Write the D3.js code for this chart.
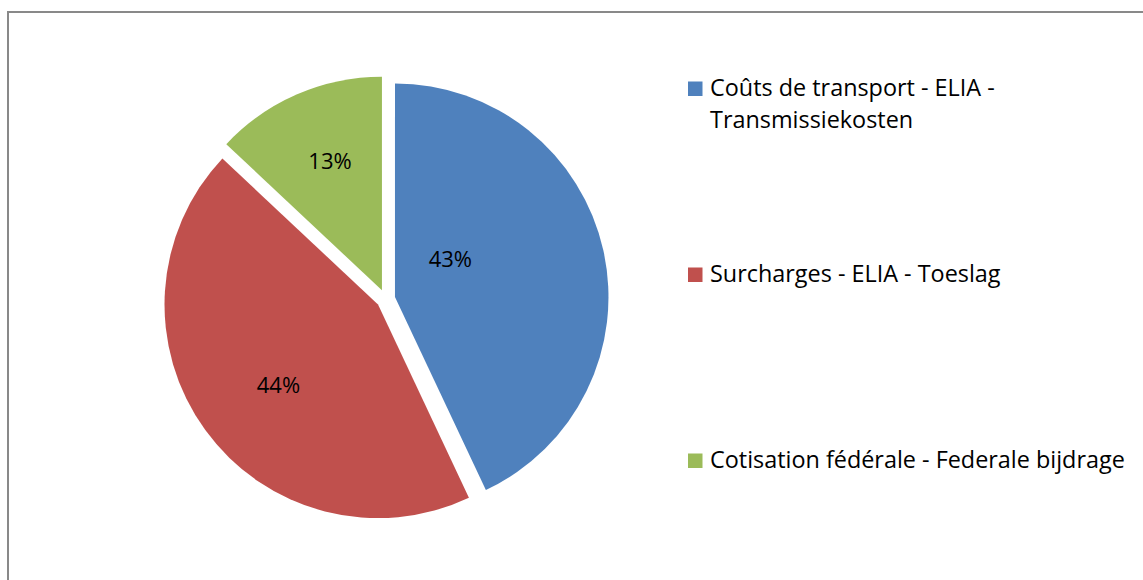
<!DOCTYPE html>
<html>
<head>
<meta charset="utf-8">
<script src="https://cdn.jsdelivr.net/npm/d3@7"></script>
<style>
	body { margin: 0; background: #fff; }
	svg { display: block; font-family: "Open Sans", Lato, sans-serif; }
</style>
</head>
<body>
<div id="chart01"></div>
<script>
// data
const categories = [
	"Coûts de transport - ELIA - Transmissiekosten",
	"Surcharges - ELIA - Toeslag",
	"Cotisation fédérale - Federale bijdrage",
];
const legendLines = [
	["Coûts de transport - ELIA -", "Transmissiekosten"],
	["Surcharges - ELIA - Toeslag"],
	["Cotisation fédérale - Federale bijdrage"],
];
const shares = [43, 44, 13];
const colors = ["#4f81bd", "#c0504d", "#9bbb59"];

var width = 1143;
var height = 580;
var svg = d3.select("#chart01").append("svg").attr("width", width).attr("height", height);

// chart border (runs off the right and bottom)
svg
	.append("rect")
	.attr("x", 8)
	.attr("y", 12)
	.attr("width", width + 20)
	.attr("height", height + 20)
	.attr("fill", "none")
	.attr("stroke", "#898989")
	.attr("stroke-width", 2);

var cx = 385.7;
var cy = 299;
var radius = 213.5;
var explode = 9.5;

var pie = d3.pie().sort(null).value((d) => d);
var arcs = pie(shares);
var arc = d3.arc().innerRadius(0).outerRadius(radius);

// label placement (Excel best fit), distance as fraction of radius and angle shift in degrees
var labelDist = [0.315, 0.6, 0.652];
var labelShift = [-22, -3, 1.5];

var g = svg.append("g").attr("transform", `translate(${cx},${cy})`);

arcs.forEach((a, i) => {
	var mid = (a.startAngle + a.endAngle) / 2;
	var ox = Math.sin(mid) * explode;
	var oy = -Math.cos(mid) * explode;
	var slice = g.append("g").attr("transform", `translate(${ox},${oy})`);
	slice.append("path").attr("d", arc(a)).attr("fill", colors[i]);

	var la = mid + (labelShift[i] * Math.PI) / 180;
	var lr = labelDist[i] * radius;
	slice
		.append("text")
		.attr("x", Math.sin(la) * lr)
		.attr("y", -Math.cos(la) * lr)
		.attr("dy", "0.36em")
		.attr("text-anchor", "middle")
		.attr("font-size", "22px")
		.attr("fill", "#000")
		.text(`${shares[i]}%`);
});

// legend
var legendY = d3.scalePoint().domain(categories).range([96, 468]);
var legend = svg.append("g").attr("class", "legend");
categories.forEach((c, i) => {
	var row = legend.append("g").attr("transform", `translate(688,${legendY(c)})`);
	row
		.append("rect")
		.attr("y", -14.5)
		.attr("width", 14.5)
		.attr("height", 14.5)
		.attr("fill", colors[i]);
	var t = row
		.append("text")
		.attr("x", 22)
		.attr("font-size", "23.4px")
		.attr("fill", "#000");
	legendLines[i].forEach((line, j) => {
		t.append("tspan").attr("x", 22).attr("dy", j === 0 ? 0 : 32).text(line);
	});
});
</script>
</body>
</html>
